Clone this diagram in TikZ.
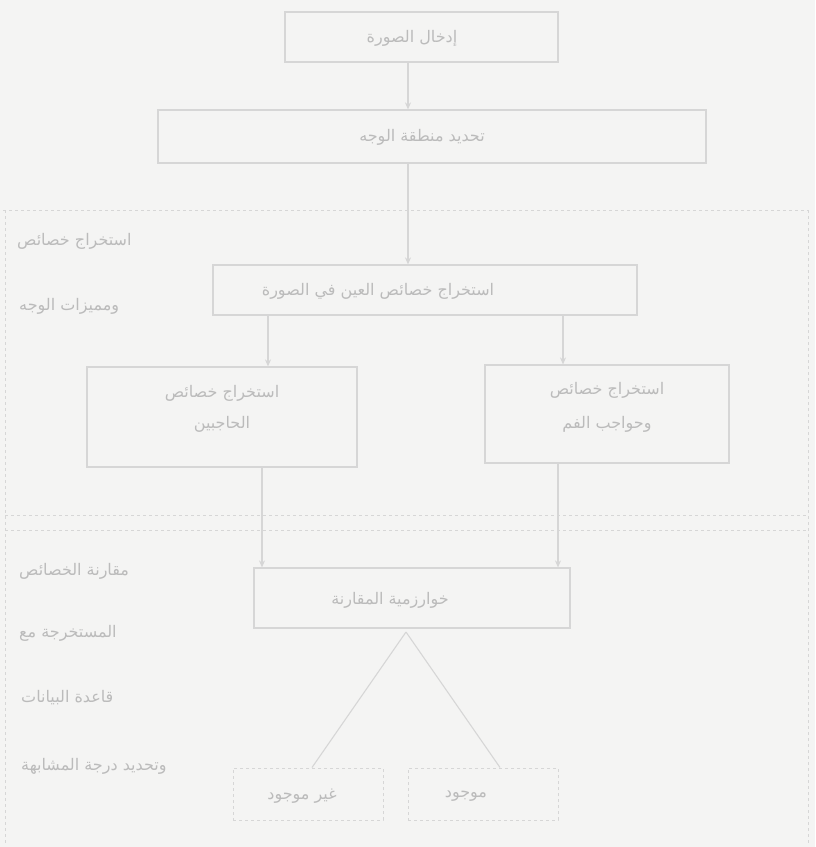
\documentclass[tikz,border=0pt]{standalone}
\usepackage{fontspec}
\newfontfamily\arabicfont[Script=Arabic]{DejaVu Sans}
\TeXXeTstate=1
\usetikzlibrary{arrows.meta}
\definecolor{bgc}{HTML}{F4F4F3}
\definecolor{linec}{HTML}{D6D6D6}
\definecolor{txtc}{HTML}{BBBBBB}
\tikzset{
  box/.style={draw=linec, line width=1.2pt, inner sep=0pt},
  dbox/.style={draw=linec, line width=1pt, dash pattern=on 3pt off 3pt, inner sep=0pt},
  region/.style={draw=linec, line width=1pt, dash pattern=on 3pt off 3pt},
  lbl/.style={text=txtc, font=\arabicfont\fontsize{16}{18}\selectfont, inner sep=1pt},
  arr/.style={draw=linec, line width=1.1pt, -{Stealth[length=7pt,width=6pt]}},
  conn/.style={draw=linec, line width=1.1pt}
}
\begin{document}
\begin{tikzpicture}[x=1pt,y=-1pt]
\fill[bgc] (0,0) rectangle (815,847);
\useasboundingbox (0,0) rectangle (815,847);
% regions
\draw[region] (3,210) -- (808,210);
\draw[region] (5,210) -- (5,845);
\draw[region] (808,210) -- (808,845);
\draw[region] (5,515) -- (808,515);
\draw[region] (5,530) -- (808,530);
% boxes
\node[box, minimum width=273pt, minimum height=50pt] (b1) at (421.5,37) {};
\node[lbl] at (412,38) {\beginR إدخال الصورة\endR};
\node[box, minimum width=548pt, minimum height=53pt] (b2) at (432,136.5) {};
\node[lbl] at (422,137) {\beginR تحديد منطقة الوجه\endR};
\node[box, minimum width=424pt, minimum height=50pt] (b3) at (425,290) {};
\node[lbl] at (378,291) {\beginR استخراج خصائص العين في الصورة\endR};
\node[box, minimum width=270pt, minimum height=100pt] (bl) at (222,417) {};
\node[lbl] (bl1) at (222,393) {\beginR استخراج خصائص\endR};
\node[lbl] (bl2) at (222,424) {\beginR الحاجبين\endR};
\node[box, minimum width=244pt, minimum height=98pt] (br) at (607,414) {};
\node[lbl] (br1) at (607,390) {\beginR استخراج خصائص\endR};
\node[lbl] (br2) at (607,424) {\beginR وحواجب الفم\endR};
\node[box, minimum width=316pt, minimum height=60pt] (b4) at (412,598) {};
\node[lbl] at (390,600) {\beginR خوارزمية المقارنة\endR};
\node[dbox, minimum width=150pt, minimum height=52pt] (n1) at (308,794) {};
\node[lbl] at (302,796) {\beginR غير موجود\endR};
\node[dbox, minimum width=150pt, minimum height=52pt] (n2) at (483,794) {};
\node[lbl] at (466,796) {\beginR موجود\endR};
% side labels
\node[lbl, anchor=west] (s1) at (16,241) {\beginR استخراج خصائص\endR};
\node[lbl, anchor=west] (s2) at (18,306) {\beginR ومميزات الوجه\endR};
\node[lbl, anchor=west] (s3) at (18,571) {\beginR مقارنة الخصائص\endR};
\node[lbl, anchor=west] (s4) at (18,633) {\beginR المستخرجة مع\endR};
\node[lbl, anchor=west] (s5) at (20,698) {\beginR قاعدة البيانات\endR};
\node[lbl, anchor=west] (s6) at (20,766) {\beginR وتحديد درجة المشابهة\endR};
% connectors
\coordinate (apex) at (406,632);
\draw[arr] (b1.south -| 408,0) -- (b2.north -| 408,0);
\draw[arr] (b2.south -| 408,0) -- (b3.north -| 408,0);
\draw[arr] (b3.south -| 268,0) -- (bl.north -| 268,0);
\draw[arr] (b3.south -| 563,0) -- (br.north -| 563,0);
\draw[arr] (bl.south -| 262,0) -- (b4.north -| 262,0);
\draw[arr] (br.south -| 558,0) -- (b4.north -| 558,0);
\draw[conn] (apex) -- (n1.north -| 312,0);
\draw[conn] (apex) -- (n2.north -| 500,0);
\end{tikzpicture}
\end{document}
